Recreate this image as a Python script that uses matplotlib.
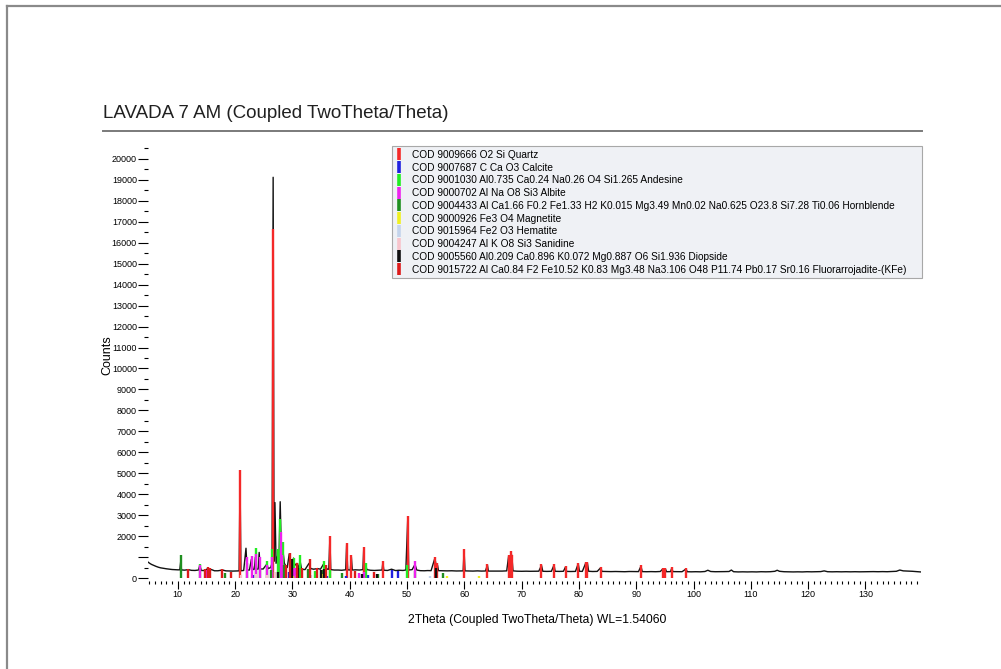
import matplotlib
matplotlib.use("Agg")
import matplotlib.pyplot as plt
from matplotlib.lines import Line2D
from matplotlib.ticker import MultipleLocator, FixedLocator, FuncFormatter
from matplotlib import font_manager

plt.rcParams["font.family"] = ["Liberation Sans", "DejaVu Sans"]

installed = {f.name for f in font_manager.fontManager.ttflist}
TICK_FAMILY = ["Liberation Sans Narrow", "Liberation Sans"] if "Liberation Sans Narrow" in installed else ["Liberation Sans"]
TICK_SIZE = 7.5 if "Liberation Sans Narrow" in installed else 6.5

TITLE = "LAVADA 7 AM (Coupled TwoTheta/Theta)"
X_LABEL = "2Theta (Coupled TwoTheta/Theta) WL=1.54060"
Y_LABEL = "Counts"

# Measured scan: (2theta, counts) vertices
scan = [
    (4.8, 760), (5.1, 700), (5.4, 650), (5.8, 600), (6.2, 555), (6.6, 515), (7.0, 485),
    (7.5, 460), (8.0, 440), (8.5, 420), (9.0, 405), (9.5, 395), (10.0, 390), (10.35, 390),
    (10.5, 760), (10.65, 385), (11.2, 375), (11.8, 400), (12.4, 365), (13.0, 360), (13.6, 380),
    (13.85, 600), (14.1, 360), (14.7, 355), (15.0, 420), (15.3, 380), (15.9, 400), (16.4, 345),
    (17.0, 345), (17.8, 380), (18.4, 340), (19.0, 335), (19.6, 330), (20.2, 335), (20.7, 340),
    (20.86, 4700), (21.02, 345), (21.5, 360), (21.9, 1420), (22.1, 380), (22.5, 380),
    (22.85, 900), (23.1, 400), (23.35, 420), (23.55, 1000), (23.75, 420), (24.05, 430),
    (24.2, 1220), (24.4, 430), (24.9, 430), (25.5, 650), (25.8, 450), (26.2, 500),
    (26.45, 700), (26.64, 19126), (26.8, 800), (26.95, 3600), (27.15, 700), (27.45, 1100),
    (27.65, 800), (27.87, 3640), (28.05, 1500), (28.2, 900), (28.35, 1300), (28.6, 700),
    (28.9, 550), (29.1, 500), (29.45, 1150), (29.7, 500), (30.0, 600), (30.2, 950),
    (30.4, 600), (30.8, 700), (31.0, 450), (31.35, 800), (31.6, 420), (32.2, 400),
    (32.9, 700), (33.2, 450), (33.7, 420), (34.4, 450), (34.9, 420), (35.4, 650),
    (35.7, 550), (36.1, 420), (36.35, 420), (36.54, 1900), (36.7, 400), (37.3, 380),
    (38.0, 380), (38.6, 370), (39.3, 390), (39.47, 1600), (39.65, 390), (40.1, 380),
    (40.29, 1000), (40.45, 380), (41.0, 390), (41.7, 380), (42.3, 400), (42.45, 1400),
    (42.6, 420), (42.8, 600), (43.0, 400), (43.6, 370), (44.3, 360), (45.0, 370),
    (45.65, 380), (45.79, 760), (45.95, 370), (46.6, 360), (47.3, 420), (48.0, 355),
    (48.6, 370), (49.3, 360), (49.8, 380), (50.14, 2900), (50.3, 380), (50.9, 400),
    (51.4, 650), (51.7, 380), (52.3, 350), (53.0, 345), (53.6, 355), (54.2, 350),
    (54.87, 950), (55.05, 650), (55.32, 620), (55.5, 350), (56.2, 345), (57.0, 340),
    (57.8, 345), (58.6, 335), (59.3, 340), (59.8, 340), (59.96, 1300), (60.12, 340),
    (60.8, 335), (61.5, 330), (62.3, 340), (63.0, 330), (63.7, 335), (64.03, 620),
    (64.2, 330), (65.0, 330), (65.8, 325), (66.6, 330), (67.4, 340), (67.74, 1050),
    (67.95, 600), (68.14, 1250), (68.31, 1000), (68.5, 340), (69.2, 325), (70.0, 320),
    (70.8, 325), (71.5, 320), (72.3, 320), (73.0, 325), (73.47, 600), (73.7, 320),
    (74.4, 315), (75.2, 320), (75.66, 620), (75.85, 320), (76.6, 315), (77.3, 320),
    (77.67, 530), (77.85, 315), (78.6, 310), (79.4, 315), (79.88, 680), (80.1, 320),
    (80.6, 315), (81.17, 700), (81.33, 500), (81.49, 700), (81.7, 320), (82.4, 310),
    (83.2, 315), (83.84, 500), (84.0, 315), (84.8, 310), (85.6, 305), (86.4, 310),
    (87.2, 305), (88.0, 300), (88.8, 310), (89.6, 305), (90.4, 305), (90.83, 560),
    (91.05, 305), (91.8, 300), (92.6, 305), (93.4, 300), (94.2, 310), (94.64, 430),
    (94.85, 340), (95.1, 430), (95.3, 300), (96.0, 305), (96.2, 470), (96.4, 305),
    (97.2, 300), (98.0, 300), (98.7, 430), (98.9, 300), (99.6, 295), (100.4, 300),
    (101.2, 295), (102.0, 310), (102.5, 370), (103.0, 310), (103.8, 300), (104.6, 300),
    (105.4, 305), (106.2, 310), (106.6, 380), (107.0, 300), (107.8, 290), (108.6, 295),
    (109.4, 290), (110.2, 295), (111.0, 290), (111.8, 300), (112.6, 295), (113.4, 300),
    (114.2, 320), (114.6, 370), (115.0, 320), (115.8, 300), (116.6, 295), (117.4, 290),
    (118.2, 295), (119.0, 290), (119.8, 300), (120.6, 295), (121.4, 300), (122.2, 305),
    (122.8, 340), (123.4, 300), (124.2, 295), (125.0, 300), (125.8, 295), (126.6, 300),
    (127.4, 295), (128.2, 300), (129.0, 295), (129.8, 300), (130.6, 300), (131.4, 305),
    (132.2, 300), (133.0, 305), (133.8, 300), (134.6, 310), (135.4, 320), (136.0, 380),
    (136.6, 340), (137.4, 330), (138.2, 320), (139.0, 300), (139.6, 290),
]
scan_two_theta = [p[0] for p in scan]
scan_counts = [p[1] for p in scan]

# Reference phases: legend text, colour, stick positions (2theta) and heights (counts)
phase_labels = [
    "COD 9009666 O2 Si Quartz",
    "COD 9007687 C Ca O3 Calcite",
    "COD 9001030 Al0.735 Ca0.24 Na0.26 O4 Si1.265 Andesine",
    "COD 9000702 Al Na O8 Si3 Albite",
    "COD 9004433 Al Ca1.66 F0.2 Fe1.33 H2 K0.015 Mg3.49 Mn0.02 Na0.625 O23.8 Si7.28 Ti0.06 Hornblende",
    "COD 9000926 Fe3 O4 Magnetite",
    "COD 9015964 Fe2 O3 Hematite",
    "COD 9004247 Al K O8 Si3 Sanidine",
    "COD 9005560 Al0.209 Ca0.896 K0.072 Mg0.887 O6 Si1.936 Diopside",
    "COD 9015722 Al Ca0.84 F2 Fe10.52 K0.83 Mg3.48 Na3.106 O48 P11.74 Pb0.17 Sr0.16 Fluorarrojadite-(KFe)",
]
phase_colors = ["#f42828", "#2020e0", "#22ee22", "#ee22ee", "#1f8f1f",
                "#f0f020", "#c4d4ec", "#f8c4cc", "#101010", "#dd1a1a"]

quartz_pos = [20.86, 26.64, 36.54, 39.47, 40.29, 42.45, 45.79, 50.14, 54.87, 55.32, 59.96,
              64.03, 67.74, 68.14, 68.31, 73.47, 75.66, 77.67, 79.88, 81.17, 81.49, 83.84,
              90.83, 94.64, 95.1, 96.2, 98.7]
quartz_int = [5150, 16640, 2000, 1650, 1100, 1460, 810, 2975, 1020, 700, 1370,
              670, 1100, 1300, 1100, 650, 670, 570, 730, 760, 760, 540,
              600, 460, 460, 510, 460]
calcite_pos = [23.06, 29.40, 36.0, 39.4, 43.2, 47.3, 48.5]
calcite_int = [150, 300, 100, 100, 120, 400, 350]
andesine_pos = [13.8, 22.0, 23.6, 24.4, 25.6, 26.5, 27.4, 27.9, 28.3, 30.3, 31.4, 33.9,
                35.5, 36.5, 42.9, 50.0, 51.4]
andesine_int = [650, 700, 1420, 500, 800, 1370, 1400, 2800, 1700, 950, 1100, 350,
                800, 400, 700, 600, 350]
albite_pos = [13.9, 15.0, 22.0, 22.9, 23.6, 24.3, 25.5, 26.4, 27.95, 28.2, 30.2, 30.5,
              35.1, 41.7, 42.5, 51.4]
albite_int = [600, 400, 1000, 1030, 1160, 1000, 600, 1000, 2200, 1100, 500, 500,
              300, 250, 300, 800]
hornblende_pos = [10.5, 18.2, 26.3, 28.6, 32.8, 35.3, 38.6, 45.0, 56.3]
hornblende_int = [1100, 250, 400, 600, 450, 400, 250, 200, 250]
magnetite_pos = [30.1, 35.4, 57.0, 62.6]
magnetite_int = [80, 200, 80, 100]
hematite_pos = [33.2, 35.6, 54.1]
hematite_int = [150, 120, 80]
sanidine_pos = [21.0, 23.6, 25.6, 26.9, 27.5, 30.8]
sanidine_int = [150, 200, 150, 300, 250, 150]
diopside_pos = [27.5, 29.9, 30.9, 35.0, 35.6, 42.1, 44.8, 55.0]
diopside_int = [300, 900, 500, 400, 450, 200, 200, 500]
fluorarrojadite_pos = [11.8, 14.8, 15.3, 15.7, 17.8, 19.3, 28.9, 29.5, 30.8, 31.6, 33.0,
                       34.3, 35.8, 41.0, 44.2]
fluorarrojadite_int = [450, 420, 520, 480, 450, 300, 600, 1200, 700, 500, 900,
                       500, 600, 350, 300]

phase_sticks = [
    (quartz_pos, quartz_int), (calcite_pos, calcite_int), (andesine_pos, andesine_int),
    (albite_pos, albite_int), (hornblende_pos, hornblende_int),
    (magnetite_pos, magnetite_int), (hematite_pos, hematite_int),
    (sanidine_pos, sanidine_int), (diopside_pos, diopside_int),
    (fluorarrojadite_pos, fluorarrojadite_int),
]

W, H = 1001, 669
fig = plt.figure(figsize=(W / 100, H / 100), dpi=100)

def fx(px):
    return px / W

def fy(py):
    return 1 - py / H

# page edge
fig.add_artist(Line2D([fx(7), fx(7)], [0, fy(6)], color="#8a8a8a", lw=1.6))
fig.add_artist(Line2D([fx(7), 1], [fy(6), fy(6)], color="#8a8a8a", lw=1.6))

# title and rule
fig.text(fx(103), fy(113), TITLE, fontsize=13.5, ha="left", va="center", color="#202020")
fig.add_artist(Line2D([fx(103), fx(922)], [fy(131), fy(131)], color="#7a7a7a", lw=1.4))

ax_left, ax_right, ax_top, ax_bot = 148, 921, 146.4, 578
ax = fig.add_axes([fx(ax_left), fy(ax_bot), (ax_right - ax_left) / W, (ax_bot - ax_top) / H])

ax.plot(scan_two_theta, scan_counts, color="#111111", lw=1.0, zorder=2)
for (pos, inten), col in zip(phase_sticks, phase_colors):
    ax.vlines(pos, 0, inten, colors=col, lw=1.7, zorder=3)

ax.set_xlim(4.8, 139.7)
ax.set_ylim(0, 20600)

for s in ax.spines.values():
    s.set_visible(False)
ax.spines["bottom"].set_position(("outward", 2))

ax.xaxis.set_major_locator(MultipleLocator(10))
ax.xaxis.set_minor_locator(MultipleLocator(1))
ax.tick_params(axis="x", which="major", length=6, width=0.8, labelsize=TICK_SIZE, pad=0.5)
ax.tick_params(axis="x", which="minor", length=2.2, width=0.8)

ax.yaxis.set_major_locator(MultipleLocator(1000))
ax.yaxis.set_minor_locator(FixedLocator([500 + 1000 * k for k in range(21)]))
ax.yaxis.set_major_formatter(FuncFormatter(lambda v, p: "" if int(round(v)) == 1000 else f"{int(round(v))}"))
ax.tick_params(axis="y", which="major", length=7, width=0.8, labelsize=TICK_SIZE, pad=1)
ax.tick_params(axis="y", which="minor", length=3, width=0.8)
for lab in ax.get_xticklabels() + ax.get_yticklabels():
    lab.set_family(TICK_FAMILY)

fig.text(fx(107), fy(355), Y_LABEL, rotation=90, fontsize=9, ha="center", va="center")
fig.text(fx(537), fy(620), X_LABEL, fontsize=8.7, ha="center", va="center")

handles = [Line2D([], [], color=c, marker="|", linestyle="None", markersize=8, markeredgewidth=2.6)
           for c in phase_colors]
leg = ax.legend(handles, phase_labels, loc="upper left",
                bbox_to_anchor=((392 - ax_left) / (ax_right - ax_left), 0,
                                (922 - 392) / (ax_right - ax_left), 1.0),
                mode="expand", borderaxespad=0, fontsize=7.3, labelspacing=0.27,
                handlelength=0.6, handletextpad=1.0, borderpad=0.35,
                frameon=True, fancybox=False, framealpha=1)
leg.get_frame().set_facecolor("#eff1f5")
leg.get_frame().set_edgecolor("#a8a8a8")
leg.get_frame().set_linewidth(0.8)

fig.savefig("out.png", dpi=100)
